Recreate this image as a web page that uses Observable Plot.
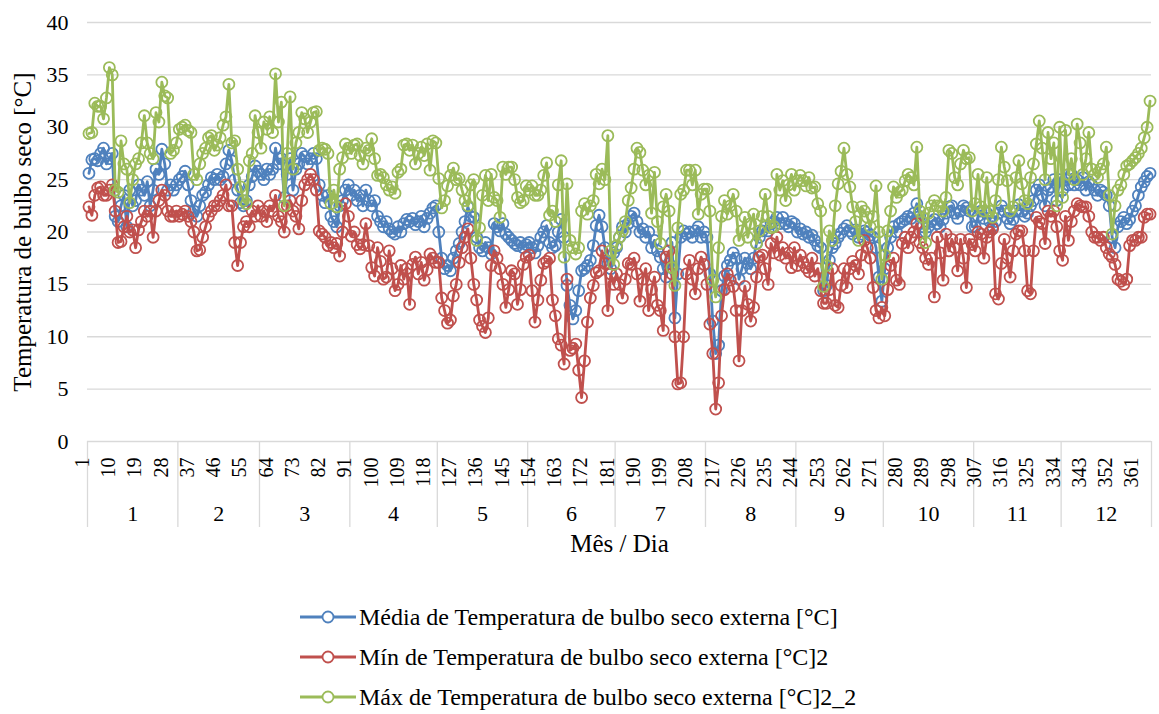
<!DOCTYPE html>
<html>
<head>
<meta charset="utf-8">
<script src="https://cdn.jsdelivr.net/npm/d3@7"></script>
<script src="https://cdn.jsdelivr.net/npm/@observablehq/plot@0.6"></script>
<style>
  body { margin: 0; background: #fff; font-family: "Liberation Serif", "Tinos", "Times New Roman", "DejaVu Serif", serif; }
  #chart { position: relative; width: 1159px; height: 714px; }
  #chart svg { overflow: visible; }
  #legend { position: absolute; left: 300px; top: 597px; }
  .item { display: flex; align-items: center; height: 40px; font-size: 24px; color: #000; }
  .item span { margin-left: 3px; }
</style>
</head>
<body>
<div id="chart"><div id="legend"></div></div>
<script>
// Daily dry-bulb temperature (°C), one row per month
const diasPorMes = [31, 28, 31, 30, 31, 30, 31, 31, 30, 31, 30, 31];
const meses = ["1", "2", "3", "4", "5", "6", "7", "8", "9", "10", "11", "12"];
const diasRotulo = [1, 10, 19, 28, 37, 46, 55, 64, 73, 82, 91, 100, 109, 118, 127, 136, 145, 154, 163, 172, 181, 190, 199, 208, 217, 226, 235, 244, 253, 262, 271, 280, 289, 298, 307, 316, 325, 334, 343, 352, 361];
const yTicks = [0, 5, 10, 15, 20, 25, 30, 35, 40];

const media = [
  25.6, 26.9, 27, 26.8, 27.5, 28, 26.5, 27, 27.5, 21.5, 21, 22.5, 23.5, 20.5, 24, 22.5, 23, 24.5, 24, 23.5, 24.8, 22.5, 24, 26, 25.5, 27.9, 26.5, 24, 24.5, 24, 24.5,
  25, 25.3, 25.8, 24.5, 23, 22, 21.5, 22.5, 23.5, 23.8, 24.5, 25.2, 25, 25.5, 25, 25.3, 26.5, 27.8, 26.8, 25, 24, 22.8, 22.5, 23, 24.5, 25.3, 26.3, 25.8,
  25.5, 25, 26, 25.5, 26, 28, 26.5, 27, 23.3, 25.5, 27, 24, 26, 26.5, 27.5, 27.2, 26.5, 27, 27.5, 27, 24.5, 23.5, 22.8, 23.5, 21.5, 21, 20.5, 22.5, 23, 24, 24.5,
  23.5, 24, 23, 23.5, 22.5, 24, 23, 22.5, 23, 21.5, 21, 20.5, 21, 20.3, 20, 19.8, 20.5, 20, 20.8, 21.2, 21, 21.3, 20.7, 21, 21.5, 20.5, 21.3, 21.8, 22.3, 22.5,
  20, 17.5, 16.5, 16.8, 16.3, 17.5, 18.2, 18.9, 20, 21, 22.4, 21.5, 21.4, 19.5, 18.5, 18.2, 19, 18.5, 17.9, 20.8, 20.5, 20.1, 20.8, 19.8, 19.5, 19.2, 18.9, 18.7, 19, 18.5, 18.8,
  19, 18.5, 18, 18.7, 19.5, 20, 20.6, 19, 18.5, 18.7, 20, 21.2, 19.5, 14.9, 13, 11.7, 12.5, 14.4, 16.3, 16.5, 16.8, 17.3, 18.7, 20.6, 21.6, 20.5, 18.5, 17, 16.5, 18,
  18.5, 19.5, 20.5, 20, 20.8, 21.5, 21.8, 21, 20, 20.3, 19.5, 20, 18.5, 19.2, 18.2, 17.6, 16.5, 15.7, 17, 19, 11.8, 16, 19.5, 20.1, 19.8, 20, 19.5, 20.1, 20.5, 19.5, 20,
  19.5, 16, 11.5, 8.4, 9.2, 14.4, 15.8, 16.8, 17.3, 18, 17.5, 15.5, 16.5, 17.5, 17, 16.5, 17.5, 18.9, 19.5, 20.1, 20.5, 20.1, 20.8, 21, 21.4, 20.8, 21.4, 20.8, 20.5, 21, 20.8,
  20, 20.3, 19.8, 20, 19.5, 19.7, 19.2, 18.7, 18.5, 14.4, 14.9, 17.3, 18.5, 18.9, 19.5, 19.9, 20.3, 20.6, 20.1, 19.8, 20.2, 19.5, 19.8, 20.1, 20, 19.7, 19.5, 18.5, 15.7, 13.4,
  16.5, 18.5, 19.5, 20.5, 20, 20.8, 21, 21.2, 21.5, 21.3, 21.8, 22.7, 21.5, 20.5, 20, 20.5, 21, 21.2, 20.8, 20.5, 21.2, 21.8, 22.4, 22.5, 21.8, 21.3, 22, 22.5, 22.3, 22, 20.5,
  20.5, 21.5, 22, 21.3, 21.8, 21, 20.5, 21, 21.8, 22.5, 22, 21.3, 20.8, 21.2, 22, 22.6, 22, 21.5, 21.8, 22.5, 23, 24, 24.5, 23.5, 22.5, 24, 24.3, 25, 23, 25,
  24, 25, 24.5, 25.5, 24.5, 25, 24.5, 25.2, 24, 24.8, 24.5, 24, 23.5, 24, 23.8, 23.5, 22.5, 19.5, 18.5, 20.5, 21, 21.4, 20.8, 21.2, 22, 22.5, 23.5, 24.3, 24.8, 25.3, 25.6
];

const minima = [
  22.4, 21.6, 23.5, 24.2, 24.3, 23.5, 23.5, 24, 24.5, 22, 19, 19.1, 20.5, 21.5, 20, 20.2, 18.5, 20.2, 21, 22, 21.5, 22, 19.5, 22, 23, 24, 23.5, 22, 21.5, 21.5, 22,
  21.5, 21.7, 22, 21.5, 21, 20, 18.2, 18.3, 19.5, 20.5, 21.5, 22, 22.5, 22.5, 23, 23.5, 24.5, 22.5, 22.5, 19, 16.8, 19, 20.5, 21, 20.5, 22, 21.5, 22.5,
  21.5, 22, 21, 22.5, 22, 23.5, 21.5, 21, 20, 22.5, 23, 22, 21.5, 20.3, 23, 24.5, 25, 25.5, 25, 24, 20.1, 19.8, 19.5, 18.7, 19, 18.5, 18.9, 17.7, 20, 22.7, 21.5,
  19.6, 20, 18.8, 18.4, 18.8, 20.8, 18.7, 16.6, 15.8, 18.5, 17.2, 15.5, 15.7, 18.2, 16.5, 14.4, 15, 16.8, 15.5, 16.5, 13.1, 16.9, 17.6, 16, 17.1, 15.4, 16.4, 17.9, 17.5, 17.1,
  17.1, 13.7, 12.5, 11.3, 11.6, 13.9, 15, 17.1, 18.5, 19.5, 20.3, 17.5, 15, 13.5, 11.6, 11, 10.4, 11.8, 16.8, 18.2, 17.5, 16.5, 15, 12.8, 14.5, 16.3, 16, 13.1, 14.5, 16.9, 17.6,
  17.8, 14.4, 11.4, 13.5, 15.4, 17, 17.2, 17.5, 13.5, 12, 9.8, 9.2, 7.4, 15.5, 8.7, 8.9, 9.3, 6.8, 4.2, 7.7, 11.4, 13.7, 14.9, 16.1, 16.3, 18.2, 17, 12.5, 16, 15,
  16, 15, 13.7, 15.5, 17, 16.9, 17.5, 16, 13.4, 15.5, 16.5, 12.5, 14.5, 15.7, 13, 12.5, 10.6, 17.6, 18.2, 16, 10, 5.5, 5.6, 10, 16, 17.3, 15.5, 14.1, 16.5, 17.6, 16.9,
  15, 11.2, 8.4, 3.1, 5.6, 12, 14.5, 16, 15.4, 14.8, 12.5, 7.7, 12.5, 14.8, 13.1, 11.5, 12.8, 15.7, 17.6, 17.8, 16.5, 15, 18.9, 18, 19.5, 17.8, 18.5, 17.5, 18, 16.6, 18.5,
  16.8, 17.8, 17.1, 16.6, 16.2, 17.5, 15.8, 16.5, 14.4, 13.2, 13.2, 14.5, 16.5, 13, 12.8, 14.9, 16.5, 14.7, 16.5, 17.2, 16.8, 16, 17.8, 19.2, 18.5, 17.5, 14.7, 12.5, 11.8, 12.8,
  12, 14.5, 16.8, 17.5, 15.4, 15, 18.9, 19.5, 18.5, 19.5, 20, 20.8, 19, 18.5, 17.5, 16.9, 17.5, 13.8, 19.5, 18, 15.4, 19.8, 18.2, 19.3, 18.5, 16.3, 19.3, 17.5, 14.7, 19.3, 18.8,
  18.2, 20, 19.8, 17.5, 19.5, 20, 20.3, 14.1, 13.6, 17, 19.3, 17.5, 15.7, 18.2, 19.8, 20.1, 20.1, 18.2, 14.4, 14.1, 18.2, 21.4, 21, 20.8, 18.9, 22, 21.5, 22, 20.5, 18.2,
  17.3, 21.5, 19.2, 21, 22, 22.7, 22.5, 22.4, 22.4, 21.5, 20, 19.5, 19.5, 19.2, 19.5, 18.5, 17.9, 17.6, 16.9, 15.5, 15.3, 15, 15.5, 18.7, 19.2, 19.2, 19.5, 19.5, 21.4, 21.7, 21.7
];

const maxima = [
  29.4, 29.5, 32.3, 32, 32, 30.8, 32.8, 35.7, 35, 24, 23.8, 28.7, 26.5, 26, 22.8, 25, 26.5, 27, 28.5, 31.1, 28.5, 27.5, 27, 31.4, 30.5, 34.3, 33, 32.8, 27.5, 27.8, 28.5,
  29.8, 30, 30.2, 29.7, 29.5, 25.5, 25, 26.5, 27.5, 28, 29, 29.2, 27.8, 28.3, 29, 30.2, 31, 34.1, 28.5, 28.7, 26, 24.3, 23, 22.7, 26.8, 27.5, 31.1, 29.5,
  28, 30.5, 29.8, 31, 29.5, 35.1, 30.5, 32.4, 22.5, 27.5, 32.9, 26, 28.5, 29.5, 31.4, 30.8, 29.5, 30.5, 31.4, 31.5, 27.8, 28, 27.9, 27.5, 22.7, 24, 22.4, 26, 27.1, 28.4, 28,
  27.5, 28.3, 28.4, 27.3, 26.5, 28, 27.8, 28.9, 27, 25.4, 25.5, 25.2, 24.5, 24, 24.3, 23.7, 25.7, 26, 28.3, 28.4, 27.8, 28.3, 26.5, 27.5, 28.1, 27.3, 28.4, 25.9, 28.7, 28.5,
  25.1, 22.3, 23, 24.4, 25.4, 26.1, 25, 25.1, 24, 23, 22.5, 24.5, 25, 19.2, 20.4, 23.5, 25.4, 23, 25.5, 23.3, 23, 21.4, 26.2, 25.5, 26.2, 26.2, 25, 23.3, 22.8, 23, 24.4,
  24, 24.4, 23.5, 23.5, 24, 25.4, 26.6, 21.6, 22, 21, 24.5, 26.8, 17.6, 24.6, 19.2, 18.5, 17.9, 18.5, 22, 22.7, 21.7, 22.5, 23, 25.5, 24.6, 26, 25, 29.2, 18.2, 16.9,
  18.7, 19.5, 20.1, 21, 23, 24.2, 26, 28, 27.6, 25.9, 24.5, 25.4, 21.8, 25.7, 21, 18.9, 22.4, 23.6, 22, 16.6, 14.9, 20.4, 23.6, 24, 25.9, 25.9, 24.5, 25.9, 21.7, 23.6, 24.1,
  24.1, 22, 15.4, 13.8, 18.5, 21.5, 23, 21.7, 22.5, 23.6, 22, 19.2, 20.1, 21.4, 19.5, 20.8, 21.7, 18.9, 20.1, 21.5, 23.6, 21.5, 20.4, 20.5, 25.5, 24, 24.9, 23, 24.5, 25.5, 24,
  24.9, 25.4, 24.9, 24.4, 25.2, 24.2, 24.3, 22.7, 22, 14.8, 16.8, 20.1, 19.2, 22.5, 24.6, 25.8, 28, 25.5, 24.3, 22.4, 21, 19.2, 22.4, 22, 21.4, 20.5, 21.5, 24.4, 20, 15.5,
  17.8, 20.1, 22, 24.3, 23.3, 23.8, 24, 24.9, 25.5, 25.2, 24.5, 28.1, 22, 21.4, 19, 21.8, 22.5, 23, 22.5, 22.4, 22, 23.3, 27.8, 27.5, 25.2, 24.5, 26.5, 27.8, 27, 27.1, 22,
  22.7, 25.5, 22.4, 22, 25.2, 22, 21.4, 23, 25, 28.1, 26.2, 24.9, 22, 22.4, 25.2, 26.8, 24.6, 23, 22.7, 25.2, 26.5, 28.4, 30.6, 28, 25, 29.5, 27, 28.5, 22.5, 30,
  23.3, 29.7, 25.5, 27, 25, 30.3, 28.5, 25.5, 27, 29.5, 26, 25.5, 25.2, 26, 26.5, 28.1, 23.5, 19.8, 22.5, 24, 24.5, 25.5, 26.3, 26.5, 26.8, 27.1, 27.5, 28, 29, 30, 32.5
];

const series = [
  { key: "media", label: "Média de Temperatura de bulbo seco externa [°C]", color: "#4F81BD" },
  { key: "minima", label: "Mín de Temperatura de bulbo seco externa [°C]2", color: "#C0504D" },
  { key: "maxima", label: "Máx de Temperatura de bulbo seco externa [°C]2_2", color: "#9BBB59" }
];

const fonte = "'Liberation Serif', Tinos, 'Times New Roman', 'DejaVu Serif', serif";

// Day-of-year table
const dados = media.map((v, i) => ({ dia: i + 1, media: v, minima: minima[i], maxima: maxima[i] }));

// Month boundaries and midpoints on the day axis
const limites = [0.5];
diasPorMes.forEach(n => limites.push(limites[limites.length - 1] + n));
const meios = meses.map((m, i) => ({ x: (limites[i] + limites[i + 1]) / 2, label: m }));

const serie = s => [
  Plot.line(dados, { x: "dia", y: s.key, stroke: s.color, strokeWidth: 2.8 }),
  Plot.dot(dados, { x: "dia", y: s.key, r: 5.5, stroke: s.color, strokeWidth: 1.8, fill: "none" })
];

const chart = Plot.plot({
  width: 1159,
  height: 575,
  marginTop: 22,
  marginBottom: 134,
  marginLeft: 87,
  marginRight: 8,
  x: { type: "linear", domain: [0.5, 365.5], axis: null },
  y: { domain: [0, 40], axis: null },
  style: { fontFamily: fonte, fontSize: "21px", color: "#000", background: "#fff", overflow: "visible" },
  marks: [
    Plot.gridY(yTicks, { stroke: "#d9d9d9", strokeOpacity: 1, strokeWidth: 1.3 }),
    Plot.axisY(yTicks, { tickSize: 0, tickPadding: 19, fontSize: 22, fontFamily: fonte, label: null }),
    Plot.text(["Temperatura de bulbo seco [°C]"], { frameAnchor: "left", textAnchor: "middle", rotate: -90, dx: -65, fontSize: 25, fontFamily: fonte }),
    Plot.axisX(limites, { tickSize: 86, tickFormat: () => "", stroke: "#d9d9d9", strokeWidth: 1.3 }),
    Plot.text(diasRotulo, { x: d => d, frameAnchor: "bottom", text: d => String(d), rotate: -90, textAnchor: "end", dy: 16, fontSize: 20, fontFamily: fonte }),
    Plot.text(meios, { x: "x", frameAnchor: "bottom", text: "label", dy: 79, fontSize: 22, fontFamily: fonte }),
    Plot.text(["Mês / Dia"], { frameAnchor: "bottom", dy: 110, fontSize: 25, fontFamily: fonte }),
    ...series.flatMap(serie)
  ]
});

const box = document.getElementById("chart");
box.insertBefore(chart, box.firstChild);

// Legend below the plot
const legend = d3.select("#legend");
series.forEach(s => {
  const item = legend.append("div").attr("class", "item");
  const svg = item.append("svg").attr("width", 56).attr("height", 40);
  svg.append("line").attr("x1", 0).attr("x2", 56).attr("y1", 20).attr("y2", 20)
    .attr("stroke", s.color).attr("stroke-width", 2.8);
  svg.append("circle").attr("cx", 28).attr("cy", 20).attr("r", 5.5)
    .attr("stroke", s.color).attr("stroke-width", 1.8).attr("fill", "#fff");
  item.append("span").text(s.label);
});
</script>
</body>
</html>
